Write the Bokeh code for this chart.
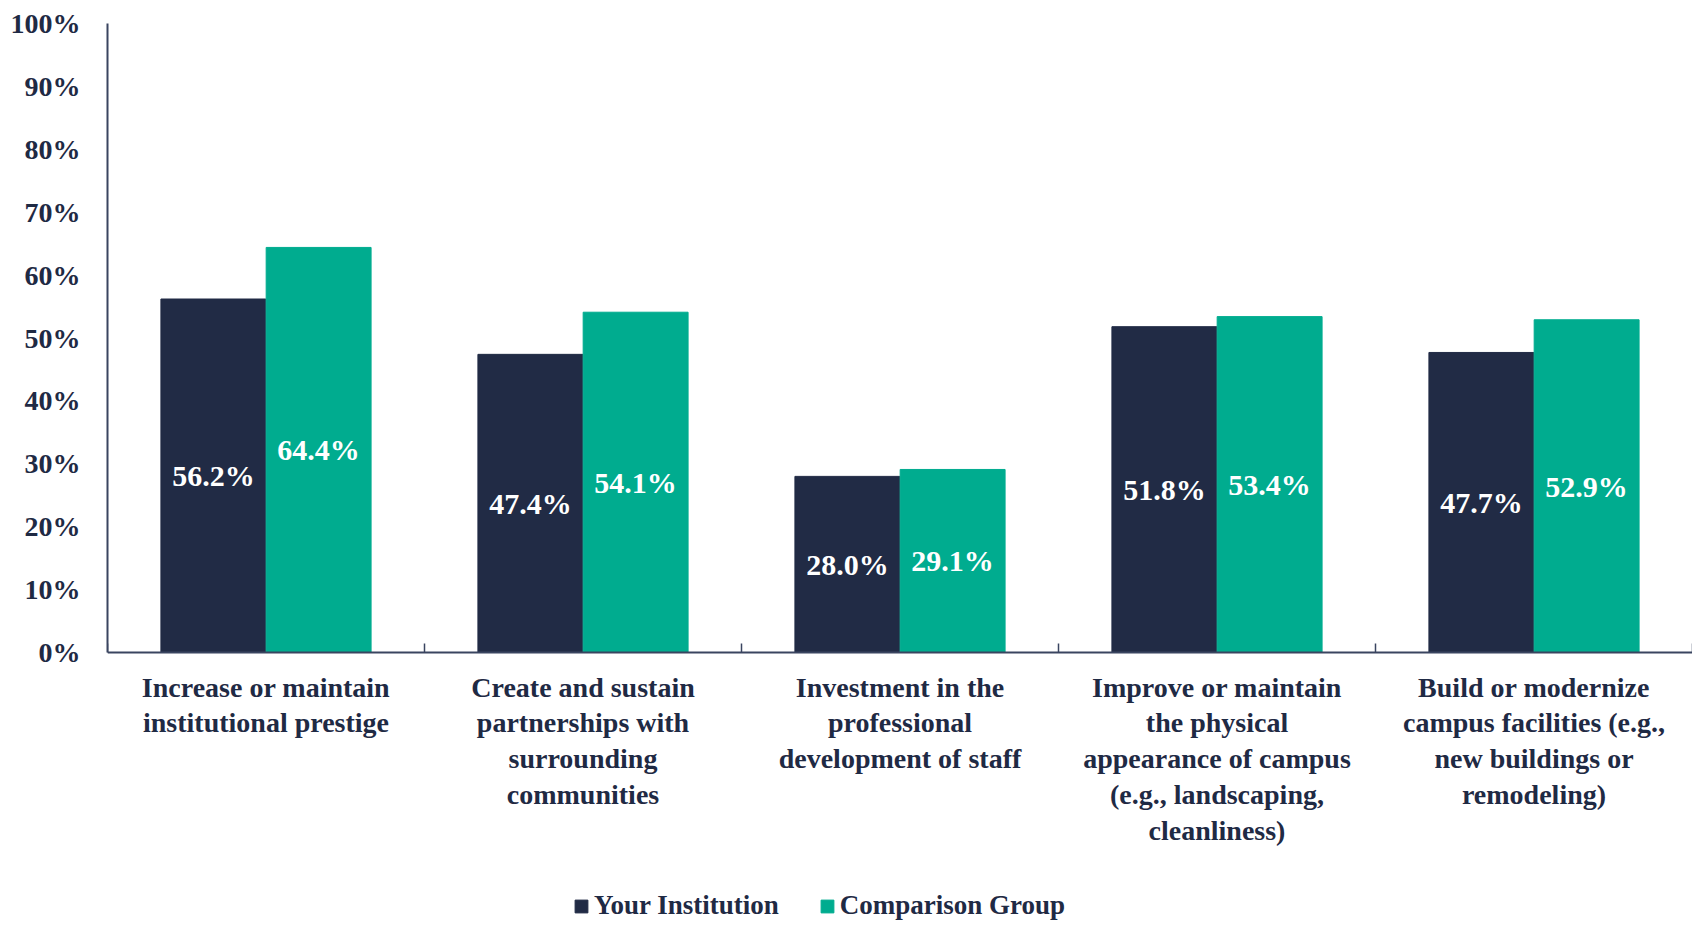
from bokeh.plotting import figure
from bokeh.models import (Range1d, FixedTicker, NumeralTickFormatter, ColumnDataSource,
                          Legend, LegendItem, LinearAxis, Span)
from bokeh.core.properties import value
from bokeh.embed import file_html
from bokeh.resources import INLINE

categories = [
    "Increase or maintain\ninstitutional prestige",
    "Create and sustain\npartnerships with\nsurrounding\ncommunities",
    "Investment in the\nprofessional\ndevelopment of staff",
    "Improve or maintain\nthe physical\nappearance of campus\n(e.g., landscaping,\ncleanliness)",
    "Build or modernize\ncampus facilities (e.g.,\nnew buildings or\nremodeling)",
]
your_institution = [56.2, 47.4, 28.0, 51.8, 47.7]
comparison_group = [64.4, 54.1, 29.1, 53.4, 52.9]
series_names = ["Your Institution", "Comparison Group"]
y_ticks = [0, 10, 20, 30, 40, 50, 60, 70, 80, 90, 100]

DARK = "#212B45"
TEAL = "#00AC8F"
TEXT = "#1F2A44"
AXIS = "#3A4560"
FONT = "Liberation Serif"

# layout (pixels)
FRAME_W = 1585
PX_PER_UNIT = 629          # height of 0..100%
FRAME_H = 898              # frame extends below 0 to hold the category labels + legend
y_start = -(FRAME_H - PX_PER_UNIT) / PX_PER_UNIT

n = len(categories)
centers = [i + 0.5 for i in range(n)]
bounds = list(range(n + 1))
offset = 0.166
bw = 0.331

src1 = ColumnDataSource(dict(
    x=[c - offset for c in centers], top=[v / 100 for v in your_institution],
    mid=[v / 200 for v in your_institution], lab=[f"{v:.1f}%" for v in your_institution]))
src2 = ColumnDataSource(dict(
    x=[c + offset for c in centers], top=[v / 100 for v in comparison_group],
    mid=[v / 200 for v in comparison_group], lab=[f"{v:.1f}%" for v in comparison_group]))
cat_src = ColumnDataSource(dict(x=centers, y=[-19 / PX_PER_UNIT] * n, lab=categories))
tick_src = ColumnDataSource(dict(x=bounds, y0=[0] * len(bounds), y1=[9 / PX_PER_UNIT] * len(bounds)))

p = figure(frame_width=FRAME_W, frame_height=FRAME_H, output_backend="svg", toolbar_location=None,
           x_range=Range1d(0, n), y_range=Range1d(y_start, 1),
           x_axis_location=None, y_axis_location=None,
           min_border_left=107, min_border_right=0, min_border_top=23, min_border_bottom=0)
p.outline_line_color = None
p.xgrid.visible = False
p.ygrid.visible = False
p.background_fill_color = "white"

r1 = p.vbar(x="x", top="top", width=bw, source=src1, fill_color=DARK, line_color=DARK)
r2 = p.vbar(x="x", top="top", width=bw, source=src2, fill_color=TEAL, line_color=TEAL)

for s in (src1, src2):
    p.text(x="x", y="mid", text="lab", source=s, text_align="center", text_baseline="middle",
           text_color="white", text_font=value(FONT), text_font_style="bold",
           text_font_size="30px")

# x baseline and category boundary ticks
p.add_layout(Span(location=0, dimension="width", line_color=AXIS, line_width=2))
p.segment(x0="x", y0="y0", x1="x", y1="y1", source=tick_src, line_color=AXIS, line_width=1.5)

# category labels
p.text(x="x", y="y", text="lab", source=cat_src, text_align="center", text_baseline="top",
       text_font=value(FONT), text_font_style="bold", text_font_size="28px",
       text_color=TEXT, text_line_height=1.16)

yax = LinearAxis(ticker=FixedTicker(ticks=[t / 100 for t in y_ticks]),
                 formatter=NumeralTickFormatter(format="0%"), bounds=(0, 1))
yax.major_tick_line_color = None
yax.minor_tick_line_color = None
yax.axis_line_color = AXIS
yax.axis_line_width = 2
yax.major_label_text_font = FONT
yax.major_label_text_font_style = "bold"
yax.major_label_text_font_size = "28px"
yax.major_label_text_color = TEXT
yax.major_label_standoff = 21
p.add_layout(yax, "left")

legend = Legend(items=[LegendItem(label=series_names[0], renderers=[r1]),
                       LegendItem(label=series_names[1], renderers=[r2])],
                orientation="horizontal", location=(466, 0),
                label_text_font=FONT, label_text_font_style="bold",
                label_text_font_size="27px", label_text_color=TEXT,
                glyph_width=16, glyph_height=16, label_standoff=5, spacing=40,
                border_line_color=None, background_fill_alpha=0,
                padding=0, margin=0)
p.add_layout(legend, "center")

open("out.html", "w").write(file_html(p, INLINE))
